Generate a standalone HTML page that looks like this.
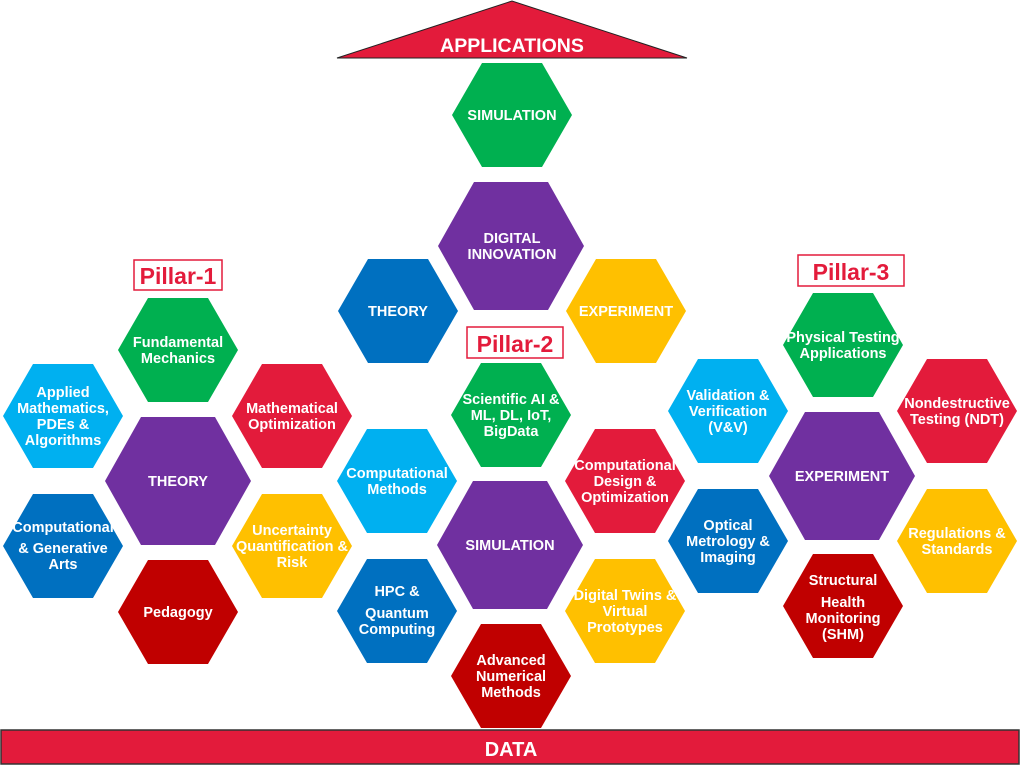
<!DOCTYPE html>
<html><head><meta charset="utf-8"><style>
html,body{margin:0;padding:0;background:#fff;width:1024px;height:773px;overflow:hidden}
text{font-family:"Liberation Sans",sans-serif;font-weight:bold;fill:#fff;text-anchor:middle}
.p{fill:#e31b3b;font-size:23px}
</style></head><body>
<svg width="1024" height="773" viewBox="0 0 1024 773" xmlns="http://www.w3.org/2000/svg">
<defs>
<polygon id="s" points="-60,0 -30,-52 30,-52 60,0 30,52 -30,52"/>
<polygon id="l" points="-73,0 -37,-64 37,-64 73,0 37,64 -37,64"/>
</defs>
<polygon points="337,58 512,1 687,58" fill="#e31b3b" stroke="#222" stroke-width="1"/>
<text x="512" y="52" font-size="19.5">APPLICATIONS</text>
<rect x="1" y="730" width="1018" height="34" fill="#e31b3b" stroke="#333" stroke-width="1.5"/>
<text x="511" y="756" font-size="20">DATA</text>

<use href="#s" x="512" y="115" fill="#00b050"/>
<use href="#l" x="511" y="246" fill="#7030a0"/>
<use href="#s" x="398" y="311" fill="#0070c0"/>
<use href="#s" x="626" y="311" fill="#ffc000"/>
<use href="#s" x="178" y="350" fill="#00b050"/>
<use href="#s" x="63" y="416" fill="#00b0f0"/>
<use href="#s" x="292" y="416" fill="#e31b3b"/>
<use href="#l" x="178" y="481" fill="#7030a0"/>
<use href="#s" x="63" y="546" fill="#0070c0"/>
<use href="#s" x="292" y="546" fill="#ffc000"/>
<use href="#s" x="178" y="612" fill="#c00000"/>
<use href="#s" x="511" y="415" fill="#00b050"/>
<use href="#s" x="397" y="481" fill="#00b0f0"/>
<use href="#s" x="625" y="481" fill="#e31b3b"/>
<use href="#l" x="510" y="545" fill="#7030a0"/>
<use href="#s" x="397" y="611" fill="#0070c0"/>
<use href="#s" x="625" y="611" fill="#ffc000"/>
<use href="#s" x="511" y="676" fill="#c00000"/>
<use href="#s" x="843" y="345" fill="#00b050"/>
<use href="#s" x="728" y="411" fill="#00b0f0"/>
<use href="#s" x="957" y="411" fill="#e31b3b"/>
<use href="#l" x="842" y="476" fill="#7030a0"/>
<use href="#s" x="728" y="541" fill="#0070c0"/>
<use href="#s" x="957" y="541" fill="#ffc000"/>
<use href="#s" x="843" y="606" fill="#c00000"/>

<rect x="134" y="260" width="88" height="30" fill="#fff" stroke="#e31b3b" stroke-width="1.5"/>
<text x="178" y="284" class="p">Pillar-1</text>
<rect x="467" y="327" width="96" height="31" fill="#fff" stroke="#e31b3b" stroke-width="1.5"/>
<text x="515" y="352" class="p">Pillar-2</text>
<rect x="798" y="255" width="106" height="31" fill="#fff" stroke="#e31b3b" stroke-width="1.5"/>
<text x="851" y="280" class="p">Pillar-3</text>

<g font-size="14.5">
<text x="512" y="120">SIMULATION</text>
<text x="512" y="243">DIGITAL</text><text x="512" y="259">INNOVATION</text>
<text x="398" y="316">THEORY</text>
<text x="626" y="316">EXPERIMENT</text>

<text x="178" y="347">Fundamental</text><text x="178" y="363">Mechanics</text>
<text x="63" y="397">Applied</text><text x="63" y="413">Mathematics,</text><text x="63" y="429">PDEs &amp;</text><text x="63" y="445">Algorithms</text>
<text x="292" y="413">Mathematical</text><text x="292" y="429">Optimization</text>
<text x="178" y="486">THEORY</text>
<text x="63" y="532">Computational</text><text x="63" y="553">&amp; Generative</text><text x="63" y="569">Arts</text>
<text x="292" y="535">Uncertainty</text><text x="292" y="551">Quantification &amp;</text><text x="292" y="567">Risk</text>
<text x="178" y="617">Pedagogy</text>

<text x="511" y="404">Scientific AI &amp;</text><text x="511" y="420">ML, DL, IoT,</text><text x="511" y="436">BigData</text>
<text x="397" y="478">Computational</text><text x="397" y="494">Methods</text>
<text x="625" y="470">Computational</text><text x="625" y="486">Design &amp;</text><text x="625" y="502">Optimization</text>
<text x="510" y="550">SIMULATION</text>
<text x="397" y="596">HPC &amp;</text><text x="397" y="618">Quantum</text><text x="397" y="634">Computing</text>
<text x="625" y="600">Digital Twins &amp;</text><text x="625" y="616">Virtual</text><text x="625" y="632">Prototypes</text>
<text x="511" y="665">Advanced</text><text x="511" y="681">Numerical</text><text x="511" y="697">Methods</text>

<text x="843" y="342">Physical Testing</text><text x="843" y="358">Applications</text>
<text x="728" y="400">Validation &amp;</text><text x="728" y="416">Verification</text><text x="728" y="432">(V&amp;V)</text>
<text x="957" y="408">Nondestructive</text><text x="957" y="424">Testing (NDT)</text>
<text x="842" y="481">EXPERIMENT</text>
<text x="728" y="530">Optical</text><text x="728" y="546">Metrology &amp;</text><text x="728" y="562">Imaging</text>
<text x="957" y="538">Regulations &amp;</text><text x="957" y="554">Standards</text>
<text x="843" y="585">Structural</text><text x="843" y="607">Health</text><text x="843" y="623">Monitoring</text><text x="843" y="639">(SHM)</text>
</g>
</svg>
</body></html>
